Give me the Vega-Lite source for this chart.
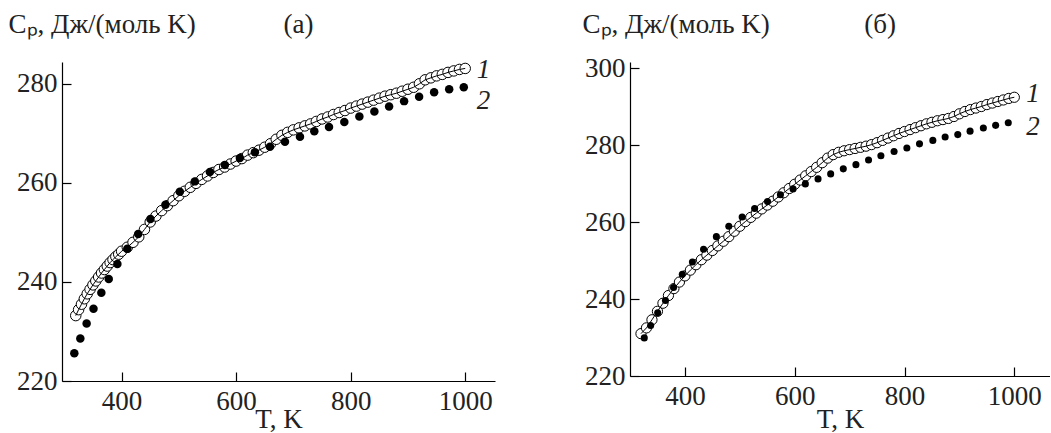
{
  "$schema": "https://vega.github.io/schema/vega-lite/v6.json",
  "padding": {"left": 8, "top": 10, "right": 0, "bottom": 0},
  "spacing": 87,
  "config": {
    "view": {"stroke": null},
    "font": "Liberation Serif",
    "axis": {
      "grid": false,
      "domainColor": "black",
      "domainWidth": 1.2,
      "tickColor": "black",
      "tickWidth": 1.2,
      "tickSize": -9,
      "labelFont": "Liberation Serif",
      "labelFontSize": 27,
      "labelColor": "#222",
      "titleFont": "Liberation Serif",
      "titleFontSize": 27,
      "titleFontWeight": "normal",
      "titleColor": "#222"
    },
    "axisX": {"labelPadding": 16, "format": "d"},
    "axisY": {"labelPadding": 14}
  },
  "datasets": {
    "a1": [
      {"T": 320, "Cp": 233.2}, {"T": 325, "Cp": 234.4}, {"T": 330, "Cp": 235.5}, {"T": 335, "Cp": 236.6},
      {"T": 340, "Cp": 237.6}, {"T": 345, "Cp": 238.5}, {"T": 350, "Cp": 239.4}, {"T": 355, "Cp": 240.2},
      {"T": 360, "Cp": 241.0}, {"T": 365, "Cp": 241.8}, {"T": 370, "Cp": 242.5}, {"T": 375, "Cp": 243.2},
      {"T": 380, "Cp": 243.9}, {"T": 385, "Cp": 244.5}, {"T": 390, "Cp": 245.1}, {"T": 395, "Cp": 245.6},
      {"T": 400, "Cp": 246.2}, {"T": 410, "Cp": 247.0}, {"T": 420, "Cp": 248.0}, {"T": 430, "Cp": 249.1},
      {"T": 440, "Cp": 250.6}, {"T": 450, "Cp": 252.1}, {"T": 460, "Cp": 253.3}, {"T": 470, "Cp": 254.4},
      {"T": 480, "Cp": 255.4}, {"T": 490, "Cp": 256.4}, {"T": 500, "Cp": 257.4}, {"T": 510, "Cp": 258.3},
      {"T": 520, "Cp": 259.1}, {"T": 530, "Cp": 259.9}, {"T": 540, "Cp": 260.7}, {"T": 550, "Cp": 261.4},
      {"T": 560, "Cp": 262.1}, {"T": 570, "Cp": 262.7}, {"T": 580, "Cp": 263.2}, {"T": 590, "Cp": 263.8},
      {"T": 600, "Cp": 264.4}, {"T": 610, "Cp": 264.9}, {"T": 620, "Cp": 265.6}, {"T": 630, "Cp": 266.1},
      {"T": 640, "Cp": 266.6}, {"T": 650, "Cp": 267.2}, {"T": 660, "Cp": 267.9}, {"T": 670, "Cp": 268.8},
      {"T": 680, "Cp": 269.6}, {"T": 690, "Cp": 270.2}, {"T": 700, "Cp": 270.7}, {"T": 710, "Cp": 271.1},
      {"T": 720, "Cp": 271.5}, {"T": 730, "Cp": 271.9}, {"T": 740, "Cp": 272.4}, {"T": 750, "Cp": 272.9},
      {"T": 760, "Cp": 273.3}, {"T": 770, "Cp": 273.8}, {"T": 780, "Cp": 274.2}, {"T": 790, "Cp": 274.6},
      {"T": 800, "Cp": 275.1}, {"T": 810, "Cp": 275.5}, {"T": 820, "Cp": 275.9}, {"T": 830, "Cp": 276.3},
      {"T": 840, "Cp": 276.7}, {"T": 850, "Cp": 277.1}, {"T": 860, "Cp": 277.5}, {"T": 870, "Cp": 277.8},
      {"T": 880, "Cp": 278.1}, {"T": 890, "Cp": 278.5}, {"T": 900, "Cp": 278.9}, {"T": 910, "Cp": 279.3},
      {"T": 920, "Cp": 280.0}, {"T": 930, "Cp": 280.8}, {"T": 940, "Cp": 281.2}, {"T": 950, "Cp": 281.6},
      {"T": 960, "Cp": 281.9}, {"T": 970, "Cp": 282.3}, {"T": 980, "Cp": 282.6}, {"T": 990, "Cp": 282.9},
      {"T": 1000, "Cp": 283.1}
    ],
    "a2": [
      {"T": 317.5, "Cp": 225.6}, {"T": 328, "Cp": 228.6}, {"T": 339, "Cp": 231.6}, {"T": 351, "Cp": 234.6},
      {"T": 364.7, "Cp": 237.8}, {"T": 377.6, "Cp": 240.6}, {"T": 392.7, "Cp": 243.6}, {"T": 410, "Cp": 246.7},
      {"T": 429, "Cp": 249.7}, {"T": 450.4, "Cp": 252.7}, {"T": 476.6, "Cp": 255.6}, {"T": 501.7, "Cp": 258.2},
      {"T": 527.9, "Cp": 260.3}, {"T": 554.2, "Cp": 262.2}, {"T": 580.4, "Cp": 263.6}, {"T": 606.6, "Cp": 265.0},
      {"T": 632.8, "Cp": 266.2}, {"T": 659.1, "Cp": 267.3}, {"T": 685.3, "Cp": 268.3}, {"T": 711.5, "Cp": 269.3},
      {"T": 736.5, "Cp": 270.4}, {"T": 762.2, "Cp": 271.3}, {"T": 788.9, "Cp": 272.3}, {"T": 815.2, "Cp": 273.4},
      {"T": 841.4, "Cp": 274.4}, {"T": 867.1, "Cp": 275.4}, {"T": 893.3, "Cp": 276.5}, {"T": 919.5, "Cp": 277.4},
      {"T": 945.7, "Cp": 278.3}, {"T": 972.0, "Cp": 278.9}, {"T": 997.5, "Cp": 279.3}
    ],
    "alab": [
      {"T": 1032, "Cp": 282.7, "label": "1"},
      {"T": 1032, "Cp": 276.6, "label": "2"}
    ],
    "b1": [
      {"T": 320, "Cp": 231.0}, {"T": 330, "Cp": 232.5}, {"T": 340, "Cp": 234.6}, {"T": 350, "Cp": 236.8},
      {"T": 360, "Cp": 238.9}, {"T": 370, "Cp": 240.9}, {"T": 380, "Cp": 242.7}, {"T": 390, "Cp": 244.4},
      {"T": 400, "Cp": 246.0}, {"T": 410, "Cp": 247.5}, {"T": 420, "Cp": 248.9}, {"T": 430, "Cp": 250.2},
      {"T": 440, "Cp": 251.4}, {"T": 450, "Cp": 252.6}, {"T": 460, "Cp": 253.8}, {"T": 470, "Cp": 255.0},
      {"T": 480, "Cp": 256.2}, {"T": 490, "Cp": 257.6}, {"T": 500, "Cp": 258.9}, {"T": 510, "Cp": 260.1},
      {"T": 520, "Cp": 261.2}, {"T": 530, "Cp": 262.3}, {"T": 540, "Cp": 263.4}, {"T": 550, "Cp": 264.4},
      {"T": 560, "Cp": 265.4}, {"T": 570, "Cp": 266.5}, {"T": 580, "Cp": 267.6}, {"T": 590, "Cp": 268.7},
      {"T": 600, "Cp": 269.8}, {"T": 610, "Cp": 270.9}, {"T": 620, "Cp": 272.0}, {"T": 630, "Cp": 273.1},
      {"T": 640, "Cp": 274.2}, {"T": 650, "Cp": 275.4}, {"T": 660, "Cp": 276.6}, {"T": 670, "Cp": 277.5},
      {"T": 680, "Cp": 278.1}, {"T": 690, "Cp": 278.5}, {"T": 700, "Cp": 278.8}, {"T": 710, "Cp": 279.1},
      {"T": 720, "Cp": 279.4}, {"T": 730, "Cp": 279.7}, {"T": 740, "Cp": 280.1}, {"T": 750, "Cp": 280.6},
      {"T": 760, "Cp": 281.2}, {"T": 770, "Cp": 281.8}, {"T": 780, "Cp": 282.4}, {"T": 790, "Cp": 283.0},
      {"T": 800, "Cp": 283.5}, {"T": 810, "Cp": 284.0}, {"T": 820, "Cp": 284.5}, {"T": 830, "Cp": 285.0},
      {"T": 840, "Cp": 285.5}, {"T": 850, "Cp": 285.9}, {"T": 860, "Cp": 286.3}, {"T": 870, "Cp": 286.6},
      {"T": 880, "Cp": 286.9}, {"T": 890, "Cp": 287.4}, {"T": 900, "Cp": 288.1}, {"T": 910, "Cp": 288.7},
      {"T": 920, "Cp": 289.2}, {"T": 930, "Cp": 289.6}, {"T": 940, "Cp": 290.0}, {"T": 950, "Cp": 290.5},
      {"T": 960, "Cp": 290.9}, {"T": 970, "Cp": 291.3}, {"T": 980, "Cp": 291.7}, {"T": 990, "Cp": 292.1},
      {"T": 1000, "Cp": 292.4}
    ],
    "b2": [
      {"T": 326, "Cp": 229.9}, {"T": 337.6, "Cp": 233.1}, {"T": 350.4, "Cp": 236.4}, {"T": 364.6, "Cp": 239.6},
      {"T": 379.3, "Cp": 243.0}, {"T": 395.3, "Cp": 246.4}, {"T": 413.7, "Cp": 249.6}, {"T": 434, "Cp": 252.9},
      {"T": 457.3, "Cp": 256.2}, {"T": 480, "Cp": 258.9}, {"T": 504.3, "Cp": 261.3}, {"T": 527, "Cp": 263.5},
      {"T": 550.5, "Cp": 265.3}, {"T": 574, "Cp": 267.1}, {"T": 597, "Cp": 268.6}, {"T": 619.4, "Cp": 269.9},
      {"T": 642.5, "Cp": 271.2}, {"T": 665.5, "Cp": 272.5}, {"T": 688.5, "Cp": 273.8}, {"T": 711.5, "Cp": 274.9},
      {"T": 734.5, "Cp": 276.1}, {"T": 757, "Cp": 277.2}, {"T": 781, "Cp": 278.3}, {"T": 804.3, "Cp": 279.2},
      {"T": 827.3, "Cp": 280.3}, {"T": 851.6, "Cp": 281.2}, {"T": 874, "Cp": 282.1}, {"T": 897, "Cp": 282.7},
      {"T": 919.4, "Cp": 283.6}, {"T": 943.6, "Cp": 284.4}, {"T": 966, "Cp": 285.1}, {"T": 989, "Cp": 285.8}
    ],
    "blab": [
      {"T": 1034, "Cp": 293.3, "label": "1"},
      {"T": 1034, "Cp": 284.7, "label": "2"}
    ]
  },
  "hconcat": [
    {
      "width": 433,
      "height": 319,
      "encoding": {
        "x": {"field": "T", "type": "quantitative",
              "scale": {"domain": [296, 1052], "nice": false, "zero": false},
              "axis": {"values": [400, 600, 800, 1000], "title": "T, K", "titleBaseline": "alphabetic", "titleY": 46}},
        "y": {"field": "Cp", "type": "quantitative",
              "scale": {"domain": [220, 284.4], "nice": false, "zero": false},
              "axis": {"values": [220, 240, 260, 280], "title": "Cₚ,\u00a0Дж/(моль\u00a0K)\u00a0\u00a0\u00a0\u00a0\u00a0\u00a0\u00a0\u00a0\u00a0\u00a0\u00a0\u00a0\u00a0(а)", "titleAngle": 0,
                       "titleAlign": "left", "titleBaseline": "alphabetic", "titleX": -54, "titleY": -30}}
      },
      "layer": [
        {"data": {"name": "a1"},
         "mark": {"type": "point", "shape": "circle", "filled": true, "fill": "white", "stroke": "black", "strokeWidth": 1, "size": 110, "opacity": 1}},
        {"data": {"name": "a1"},
         "mark": {"type": "line", "color": "black", "strokeWidth": 1}},
        {"data": {"name": "a2"},
         "mark": {"type": "circle", "color": "black", "size": 72, "opacity": 1}},
        {"data": {"name": "alab"},
         "mark": {"type": "text", "fontStyle": "italic", "fontSize": 27, "color": "#222", "align": "center", "baseline": "middle", "font": "Liberation Serif"},
         "encoding": {"text": {"field": "label", "type": "nominal"}}}
      ]
    },
    {
      "width": 420,
      "height": 314,
      "encoding": {
        "x": {"field": "T", "type": "quantitative",
              "scale": {"domain": [300, 1065], "nice": false, "zero": false},
              "axis": {"values": [400, 600, 800, 1000], "title": "T, K", "titleBaseline": "alphabetic", "titleY": 51}},
        "y": {"field": "Cp", "type": "quantitative",
              "scale": {"domain": [220, 301.56], "nice": false, "zero": false},
              "axis": {"values": [220, 240, 260, 280, 300], "title": "Cₚ,\u00a0Дж/(моль\u00a0K)\u00a0\u00a0\u00a0\u00a0\u00a0\u00a0\u00a0\u00a0\u00a0\u00a0\u00a0\u00a0\u00a0\u00a0(б)", "titleAngle": 0,
                       "titleAlign": "left", "titleBaseline": "alphabetic", "titleX": -48, "titleY": -30}}
      },
      "layer": [
        {"data": {"name": "b1"},
         "mark": {"type": "point", "shape": "circle", "filled": true, "fill": "white", "stroke": "black", "strokeWidth": 1, "size": 105, "opacity": 1}},
        {"data": {"name": "b1"},
         "mark": {"type": "line", "color": "black", "strokeWidth": 1}},
        {"data": {"name": "b2"},
         "mark": {"type": "circle", "color": "black", "size": 50, "opacity": 1}},
        {"data": {"name": "blab"},
         "mark": {"type": "text", "fontStyle": "italic", "fontSize": 27, "color": "#222", "align": "center", "baseline": "middle", "font": "Liberation Serif"},
         "encoding": {"text": {"field": "label", "type": "nominal"}}}
      ]
    }
  ]
}
